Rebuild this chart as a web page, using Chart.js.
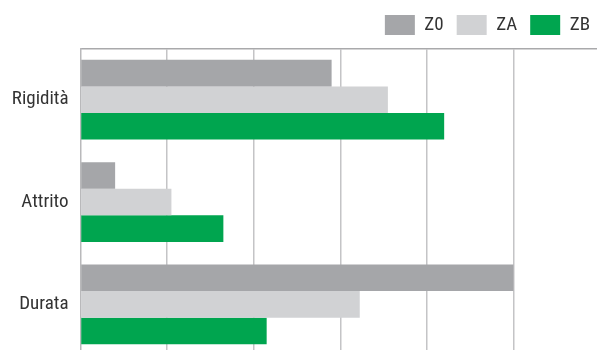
<!DOCTYPE html>
<html lang="it">
<head>
    <meta charset="UTF-8">
    <title>Confronto Z0 / ZA / ZB</title>
    <script src="https://cdn.jsdelivr.net/npm/chart.js"></script>
    <style>
        html, body { margin: 0; padding: 0; background: #fff; overflow: hidden; }
        /* canvas più alto della finestra: il fondo del grafico esce dal bordo */
        #wrap { position: relative; width: 597px; height: 379px; }
    </style>
</head>
<body>
    <div id="wrap">
        <canvas id="confronto"></canvas>
    </div>

    <script>
        // categorie e valori delle tre serie
        const categorie = ['Rigidità', 'Attrito', 'Durata'];
        const serieZ0 = [58, 8, 100];
        const serieZA = [71, 21, 64.5];
        const serieZB = [84, 33, 43];

        // Roboto variabile in larghezza condensata (la parola chiave passa dal campo weight)
        const testoFont = { family: 'Roboto', size: 19, weight: 'condensed' };
        const gridColor = '#c4c4c6';

        const ctx = document.getElementById('confronto').getContext('2d');

        new Chart(ctx, {
            type: 'bar',
            data: {
                labels: categorie,
                datasets: [
                    { label: 'Z0', data: serieZ0, backgroundColor: '#a5a6a9' },
                    { label: 'ZA', data: serieZA, backgroundColor: '#d1d2d4' },
                    { label: 'ZB', data: serieZB, backgroundColor: '#00a54f' }
                ]
            },
            options: {
                indexAxis: 'y',
                responsive: true,
                maintainAspectRatio: false,
                animation: false,
                layout: { padding: { top: 2, left: 8, right: -6, bottom: 0 } },
                datasets: {
                    bar: { barPercentage: 1.0, categoryPercentage: 0.78, borderWidth: 0 }
                },
                scales: {
                    x: {
                        position: 'top',
                        min: 0,
                        max: 119.3,
                        afterFit: (s) => { s.height = 3.5; },
                        ticks: { display: false, stepSize: 20 },
                        grid: {
                            drawTicks: false,
                            lineWidth: 1.5,
                            color: (c) => (c.tick && c.tick.value % 20 === 0 && c.tick.value > 0) ? gridColor : 'rgba(0,0,0,0)'
                        },
                        border: { display: true, color: '#a9a9ab', width: 1.5 }
                    },
                    y: {
                        afterFit: (s) => { s.width = 72.5; },
                        grid: { display: false, drawTicks: false },
                        border: { display: true, color: '#b9b9bb', width: 1.5 },
                        ticks: {
                            padding: 12,
                            color: '#333333',
                            font: testoFont
                        }
                    }
                },
                plugins: {
                    legend: {
                        position: 'top',
                        align: 'end',
                        labels: {
                            boxWidth: 30,
                            boxHeight: 20,
                            padding: 13,
                            color: '#333333',
                            font: testoFont
                        }
                    },
                    tooltip: { enabled: false }
                }
            }
        });
    </script>
</body>
</html>
